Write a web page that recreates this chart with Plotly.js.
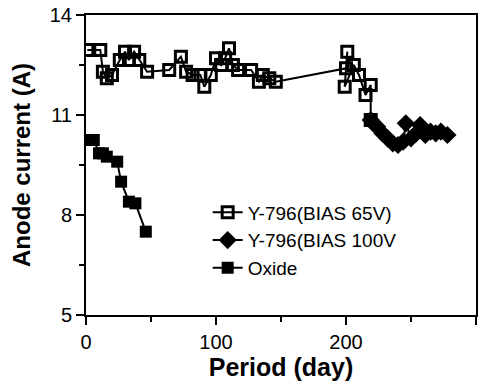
<!DOCTYPE html>
<html>
<head>
<meta charset="utf-8">
<script src="https://cdn.plot.ly/plotly-3.0.1.min.js"></script>
<style>html,body{margin:0;padding:0;background:#fff;}#chart{width:492px;height:386px;}</style>
</head>
<body>
<div id="chart"></div>
<script>
var bias65Days = [1, 11, 13, 16, 20, 26, 30, 33, 37, 41, 47, 64, 73, 77, 82, 88, 91, 96, 100, 104, 107, 110, 113, 117, 127, 133, 136, 141, 146, 200, 201, 199, 206, 210, 215, 219, 219];
var bias65Vals = [12.95, 12.95, 12.3, 12.1, 12.2, 12.65, 12.9, 12.65, 12.9, 12.65, 12.3, 12.35, 12.75, 12.3, 12.2, 12.2, 11.85, 12.2, 12.7, 12.5, 12.7, 13.0, 12.5, 12.35, 12.35, 12.0, 12.2, 12.1, 12.0, 12.4, 12.9, 11.85, 12.5, 12.2, 11.6, 11.9, 10.85];
var bias100Days = [219, 221, 224, 228, 232, 236, 240, 244, 246, 250, 254, 257, 261, 265, 269, 273, 278];
var bias100Vals = [10.85, 10.75, 10.65, 10.45, 10.3, 10.15, 10.1, 10.2, 10.75, 10.3, 10.45, 10.7, 10.4, 10.5, 10.45, 10.5, 10.4];
var oxideDays = [1, 6, 10, 13, 16, 24, 27, 33, 38, 46];
var oxideVals = [10.25, 10.25, 9.85, 9.85, 9.75, 9.6, 9.0, 8.4, 8.35, 7.5];
var seriesNames = ["Y-796(BIAS 65V)", "Y-796(BIAS 100V", "Oxide"];

var F = "Liberation Sans, Arial, Helvetica, sans-serif";
var traces = [
  {x: bias65Days, y: bias65Vals, name: seriesNames[0], mode: "lines+markers", type: "scatter",
   line: {color: "#000", width: 2},
   marker: {symbol: "square-open", size: 11, color: "#000", line: {width: 3, color: "#000"}}},
  {x: bias100Days, y: bias100Vals, name: seriesNames[1], mode: "lines+markers", type: "scatter",
   line: {color: "#000", width: 2},
   marker: {symbol: "diamond", size: 14, color: "#000"}},
  {x: oxideDays, y: oxideVals, name: seriesNames[2], mode: "lines+markers", type: "scatter",
   line: {color: "#000", width: 2},
   marker: {symbol: "square", size: 12, color: "#000"}}
];
var layout = {
  width: 492, height: 386,
  margin: {l: 86, r: 16, t: 15, b: 71},
  paper_bgcolor: "#fff", plot_bgcolor: "#fff",
  font: {family: F, color: "#000"},
  showlegend: true,
  legend: {x: 0.312, y: 0.405, xanchor: "left", yanchor: "top", bgcolor: "rgba(0,0,0,0)",
           font: {size: 19, family: F, color: "#000"}, itemwidth: 30},
  xaxis: {range: [0, 300], tickvals: [0, 100, 200, 300], ticks: "outside", ticklen: 8, tickwidth: 2,
          tickcolor: "#000", showline: true, linewidth: 2, linecolor: "#000", mirror: true,
          showgrid: false, zeroline: false, tickfont: {size: 20, family: F},
          minor: {tickvals: [50, 150, 250], ticks: "outside", ticklen: 5, tickwidth: 2, tickcolor: "#000", showgrid: false},
          title: {text: "<b>Period (day)</b>", font: {size: 25, family: F}, standoff: 4}},
  yaxis: {range: [5, 14], tickvals: [5, 8, 11, 14], ticks: "outside", ticklen: 8, tickwidth: 2,
          tickcolor: "#000", showline: true, linewidth: 2, linecolor: "#000", mirror: true,
          showgrid: false, zeroline: false, tickfont: {size: 20, family: F},
          minor: {tickvals: [6.5, 9.5, 12.5], ticks: "outside", ticklen: 5, tickwidth: 2, tickcolor: "#000", showgrid: false},
          title: {text: "<b>Anode current (A)</b>", font: {size: 24, family: F}, standoff: 12}}
};
Plotly.newPlot("chart", traces, layout, {displayModeBar: false, staticPlot: true});
</script>
</body>
</html>
